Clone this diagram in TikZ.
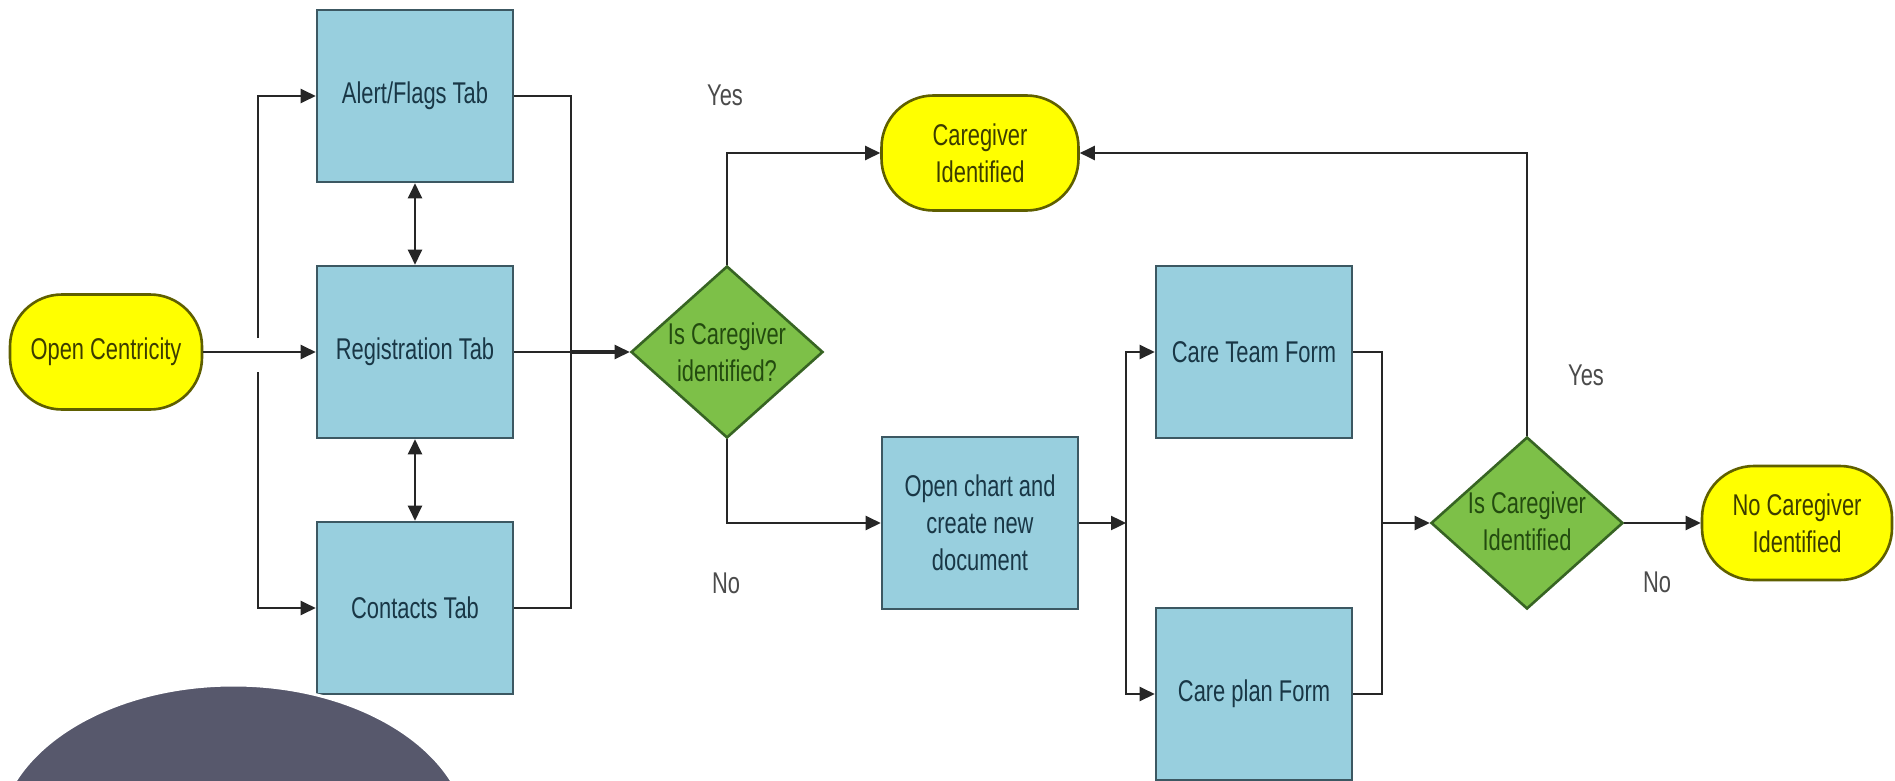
\documentclass[tikz,border=0pt]{standalone}
\usepackage{fontspec}
\setmainfont[FakeStretch=0.73]{Liberation Sans}
\usetikzlibrary{shapes.geometric,arrows.meta,calc}
\definecolor{boxfill}{RGB}{152,207,222}
\definecolor{boxdraw}{RGB}{60,88,98}
\definecolor{boxtext}{RGB}{25,55,70}
\definecolor{pillfill}{RGB}{255,255,0}
\definecolor{pilldraw}{RGB}{95,95,0}
\definecolor{pilltext}{RGB}{60,60,0}
\definecolor{diafill}{RGB}{125,192,72}
\definecolor{diadraw}{RGB}{55,100,35}
\definecolor{diatext}{RGB}{35,75,15}
\definecolor{blobcol}{RGB}{87,88,108}
\definecolor{labcol}{RGB}{75,75,75}
\tikzset{
  txt/.style={font=\fontsize{15pt}{18.5pt}\selectfont, align=center, inner sep=0pt},
  procbox/.style={txt, draw=boxdraw, fill=boxfill, text=boxtext, line width=1.3pt,
    minimum width=98pt, minimum height=86pt},
  pill/.style={txt, draw=pilldraw, fill=pillfill, text=pilltext, line width=1.3pt,
    rounded corners=26pt, minimum width=96pt, minimum height=57.5pt},
  dia/.style={diamond, draw=diadraw, fill=diafill, line width=1.3pt, inner sep=0pt,
    minimum width=96pt, minimum height=86pt},
  diatxt/.style={txt, text=diatext},
  lab/.style={txt, text=labcol},
  conn/.style={draw=black!85, line width=1.2pt},
  arr/.style={conn, -{Triangle[length=7.5pt,width=7pt]}},
  darr/.style={conn, {Triangle[length=7.5pt,width=7pt]}-{Triangle[length=7.5pt,width=7pt]}},
}
\begin{document}
\begin{tikzpicture}[x=0.5pt,y=-0.5pt]
\useasboundingbox (0,0) rectangle (1895,781);
\fill[white] (0,0) rectangle (1895,781);

% nodes
\node[pill] (oc) at (106,352) {Open Centricity};
\node[procbox] (alert) at (415,96) {Alert/Flags Tab};
\node[procbox] (reg) at (415,352) {Registration Tab};
\node[procbox] (cont) at (415,608) {Contacts Tab};
\node[dia] (d1) at (727,352) {};
\node[diatxt] (d1t) at (727,352) {Is Caregiver\\identified?};
\node[pill, minimum width=98.5pt] (cg) at (980,153) {Caregiver\\Identified};
\node[procbox] (open) at (980,523) {Open chart and\\create new\\document};
\node[procbox] (team) at (1254,352) {Care Team Form};
\node[procbox] (plan) at (1254,694) {Care plan Form};
\node[dia] (d2) at (1527,523) {};
\node[diatxt] (d2t) at (1527,521) {Is Caregiver\\Identified};
\node[pill, minimum width=95pt, minimum height=57pt] (ncg) at (1797,523) {No Caregiver\\Identified};

\node[lab] (y1) at (725,95) {Yes};
\node[lab] (n1) at (726,583) {No};
\node[lab] (y2) at (1586,375) {Yes};
\node[lab] (n2) at (1657,582) {No};

% left split (with gap at crossing)
\coordinate (s1) at (258,338);
\coordinate (s2) at (258,372);
\draw[arr] (s1) |- (alert.west);
\draw[arr] (s2) |- (cont.west);
\draw[arr] (oc.east) -- (reg.west);

% bidirectional
\draw[darr] (alert.south) -- (reg.north);
\draw[darr] (reg.south) -- (cont.north);

% right merge
\coordinate (mr) at (571,352);
\draw[conn] (alert.east) -| (mr);
\draw[conn] (cont.east) -| (mr);
\draw[arr] (reg.east) -- (d1.west);
\draw[conn, line width=1.8pt] (mr) -- ($(d1.west)+(-14,0)$);

% decision 1
\draw[arr] (d1.north) |- (cg.west);
\draw[arr] (d1.south) |- (open.west);

% split to forms
\coordinate (sp) at (1126,523);
\draw[arr] (open.east) -- (sp);
\draw[arr] (sp) |- (team.west);
\draw[arr] (sp) |- (plan.west);

% merge forms
\coordinate (mg) at (1382,523);
\draw[conn] (team.east) -| (mg);
\draw[conn] (plan.east) -| (mg);
\draw[arr] (mg) -- (d2.west);

% decision 2
\draw[arr] (d2.east) -- (ncg.west);
\draw[arr] (d2.north) |- (cg.east);

% dark blob
\filldraw[fill=blobcol, draw=white, line width=1.5pt] (233.5,840) ellipse [x radius=236, y radius=155];
\end{tikzpicture}
\end{document}
